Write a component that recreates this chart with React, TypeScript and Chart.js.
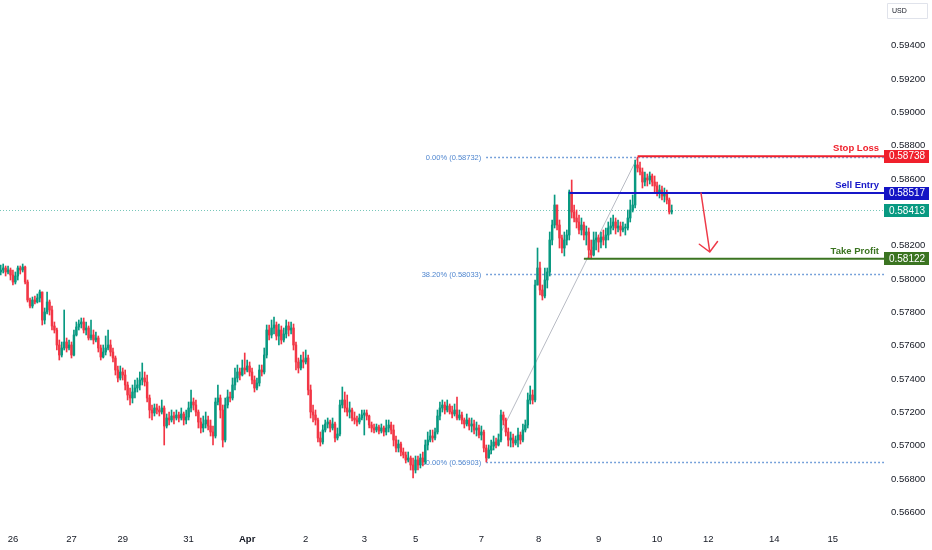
import React, { useEffect, useRef } from "react";
import { Chart, registerables } from "chart.js";

Chart.register(...registerables);

// ---------- data ----------
const firstOpen = 0.58043;

const closes = [
  0.58055, 0.58067, 0.58043, 0.58055, 0.58025, 0.57983, 0.58019, 0.58067, 0.58055, 0.58073,
  0.57983, 0.57875, 0.57839, 0.57875, 0.57863, 0.57887, 0.57923, 0.57755, 0.57803, 0.57863,
  0.57815, 0.57719, 0.57695, 0.57605, 0.57545, 0.57587, 0.57623, 0.57587, 0.57605, 0.57545,
  0.57665, 0.57713, 0.57731, 0.57743, 0.57695, 0.57707, 0.57647, 0.57665, 0.57635, 0.57647,
  0.57587, 0.57533, 0.57563, 0.57587, 0.57605, 0.57563, 0.57527, 0.57455, 0.57407, 0.57443,
  0.57425, 0.57365, 0.57305, 0.57287, 0.57323, 0.57347, 0.57365, 0.57395, 0.57407, 0.57383,
  0.57287, 0.57215, 0.57197, 0.57227, 0.57215, 0.57203, 0.57227, 0.57119, 0.57167, 0.57155,
  0.57179, 0.57167, 0.57185, 0.57167, 0.57191, 0.57155, 0.57173, 0.57227, 0.57263, 0.57245,
  0.57203, 0.57143, 0.57107, 0.57131, 0.57155, 0.57119, 0.57083, 0.57059, 0.57263, 0.57287,
  0.57215, 0.57035, 0.57245, 0.57293, 0.57287, 0.57365, 0.57407, 0.57443, 0.57425, 0.57467,
  0.57455, 0.57479, 0.57443, 0.57395, 0.57347, 0.57377, 0.57455, 0.57443, 0.57545, 0.57695,
  0.57665, 0.57707, 0.57725, 0.57659, 0.57695, 0.57635, 0.57671, 0.57719, 0.57695, 0.57707,
  0.57605, 0.57503, 0.57467, 0.57515, 0.57503, 0.57527, 0.57335, 0.57203, 0.57185, 0.57155,
  0.57047, 0.57023, 0.57095, 0.57131, 0.57143, 0.57107, 0.57131, 0.57047, 0.57071, 0.57245,
  0.57275, 0.57227, 0.57203, 0.57215, 0.57167, 0.57155, 0.57143, 0.57167, 0.57185, 0.57197,
  0.57179, 0.57125, 0.57107, 0.57095, 0.57113, 0.57089, 0.57107, 0.57083, 0.57107, 0.57125,
  0.57095, 0.57035, 0.56987, 0.57011, 0.56963, 0.56945, 0.56915, 0.56927, 0.56885, 0.56855,
  0.56915, 0.56885, 0.56927, 0.56903, 0.57005, 0.57035, 0.57059, 0.57047, 0.57083, 0.57179,
  0.57227, 0.57245, 0.57215, 0.57239, 0.57203, 0.57191, 0.57215, 0.57167, 0.57185, 0.57155,
  0.57131, 0.57155, 0.57119, 0.57131, 0.57095, 0.57107, 0.57065, 0.57083, 0.56987, 0.56927,
  0.56975, 0.56999, 0.57023, 0.57005, 0.57035, 0.57185, 0.57155, 0.57083, 0.57035, 0.57047,
  0.57017, 0.57035, 0.57065, 0.57035, 0.57095, 0.57125, 0.57275, 0.57305, 0.57275, 0.57965,
  0.58067, 0.57935, 0.57899, 0.57995, 0.58043, 0.58235, 0.58325, 0.58445, 0.58325, 0.58247,
  0.58187, 0.58235, 0.58265, 0.58523, 0.58403, 0.58367, 0.58343, 0.58295, 0.58325, 0.58265,
  0.58283, 0.58175, 0.58145, 0.58235, 0.58247, 0.58223, 0.58253, 0.58235, 0.58265, 0.58307,
  0.58319, 0.58343, 0.58307, 0.58319, 0.58295, 0.58307, 0.58307, 0.58367, 0.58415, 0.58445,
  0.58685, 0.58667, 0.58643, 0.58583, 0.58607, 0.58595, 0.58619, 0.58583, 0.58559, 0.58523,
  0.58535, 0.58499, 0.58511, 0.58475, 0.58403, 0.58413,
];

const highs = [
  0.58085, 0.58091, 0.58079, 0.58079, 0.58067, 0.58055, 0.58043, 0.58079, 0.58079, 0.58091,
  0.58079, 0.57995, 0.57887, 0.57893, 0.57899, 0.57911, 0.57935, 0.57923, 0.57827, 0.57923,
  0.57875, 0.57839, 0.57743, 0.57707, 0.57635, 0.57623, 0.57815, 0.57647, 0.57635, 0.57623,
  0.57695, 0.57743, 0.57755, 0.57767, 0.57767, 0.57743, 0.57719, 0.57755, 0.57695, 0.57683,
  0.57659, 0.57605, 0.57605, 0.57659, 0.57695, 0.57635, 0.57587, 0.57539, 0.57479, 0.57479,
  0.57467, 0.57455, 0.57383, 0.57347, 0.57365, 0.57395, 0.57407, 0.57443, 0.57497, 0.57443,
  0.57425, 0.57305, 0.57245, 0.57251, 0.57251, 0.57239, 0.57275, 0.57239, 0.57191, 0.57203,
  0.57215, 0.57203, 0.57215, 0.57203, 0.57227, 0.57203, 0.57215, 0.57263, 0.57335, 0.57287,
  0.57275, 0.57215, 0.57167, 0.57179, 0.57203, 0.57179, 0.57155, 0.57119, 0.57287, 0.57365,
  0.57305, 0.57245, 0.57287, 0.57335, 0.57323, 0.57407, 0.57467, 0.57485, 0.57467, 0.57515,
  0.57557, 0.57515, 0.57503, 0.57467, 0.57419, 0.57407, 0.57485, 0.57485, 0.57587, 0.57725,
  0.57725, 0.57755, 0.57773, 0.57743, 0.57731, 0.57719, 0.57707, 0.57755, 0.57743, 0.57743,
  0.57731, 0.57623, 0.57527, 0.57545, 0.57563, 0.57575, 0.57545, 0.57365, 0.57245, 0.57215,
  0.57167, 0.57083, 0.57125, 0.57155, 0.57167, 0.57155, 0.57167, 0.57143, 0.57107, 0.57275,
  0.57353, 0.57323, 0.57305, 0.57263, 0.57227, 0.57203, 0.57179, 0.57191, 0.57215, 0.57215,
  0.57215, 0.57185, 0.57143, 0.57131, 0.57131, 0.57125, 0.57131, 0.57119, 0.57155, 0.57155,
  0.57143, 0.57125, 0.57059, 0.57035, 0.57023, 0.56987, 0.56963, 0.56963, 0.56939, 0.56927,
  0.56939, 0.56939, 0.56951, 0.56963, 0.57035, 0.57083, 0.57095, 0.57095, 0.57107, 0.57215,
  0.57263, 0.57275, 0.57263, 0.57275, 0.57251, 0.57239, 0.57251, 0.57293, 0.57215, 0.57203,
  0.57167, 0.57191, 0.57167, 0.57167, 0.57155, 0.57143, 0.57125, 0.57119, 0.57095, 0.57005,
  0.57005, 0.57035, 0.57059, 0.57047, 0.57071, 0.57215, 0.57203, 0.57167, 0.57107, 0.57083,
  0.57071, 0.57059, 0.57107, 0.57083, 0.57131, 0.57155, 0.57317, 0.57359, 0.57335, 0.57995,
  0.58187, 0.58103, 0.57965, 0.58067, 0.58067, 0.58283, 0.58355, 0.58505, 0.58445, 0.58355,
  0.58265, 0.58283, 0.58295, 0.58535, 0.58595, 0.58445, 0.58415, 0.58385, 0.58367, 0.58343,
  0.58319, 0.58307, 0.58235, 0.58283, 0.58283, 0.58265, 0.58283, 0.58295, 0.58307, 0.58343,
  0.58367, 0.58385, 0.58367, 0.58355, 0.58343, 0.58343, 0.58331, 0.58415, 0.58475, 0.58505,
  0.58715, 0.58732, 0.58703, 0.58667, 0.58643, 0.58631, 0.58643, 0.58631, 0.58619, 0.58583,
  0.58565, 0.58559, 0.58547, 0.58535, 0.58487, 0.58445,
];

const lows = [
  0.58025, 0.58037, 0.58019, 0.58031, 0.57995, 0.57965, 0.57971, 0.57995, 0.58031, 0.58043,
  0.57971, 0.57863, 0.57827, 0.57827, 0.57851, 0.57857, 0.57863, 0.57725, 0.57731, 0.57791,
  0.57785, 0.57695, 0.57677, 0.57575, 0.57515, 0.57533, 0.57575, 0.57563, 0.57575, 0.57527,
  0.57539, 0.57659, 0.57695, 0.57707, 0.57677, 0.57665, 0.57635, 0.57635, 0.57611, 0.57623,
  0.57563, 0.57515, 0.57527, 0.57545, 0.57575, 0.57539, 0.57503, 0.57425, 0.57383, 0.57395,
  0.57395, 0.57335, 0.57275, 0.57245, 0.57257, 0.57287, 0.57323, 0.57335, 0.57365, 0.57359,
  0.57263, 0.57167, 0.57155, 0.57179, 0.57191, 0.57179, 0.57191, 0.57005, 0.57107, 0.57125,
  0.57143, 0.57131, 0.57155, 0.57143, 0.57155, 0.57125, 0.57131, 0.57155, 0.57203, 0.57215,
  0.57179, 0.57107, 0.57077, 0.57083, 0.57107, 0.57095, 0.57059, 0.57005, 0.57047, 0.57245,
  0.57167, 0.56993, 0.57023, 0.57227, 0.57263, 0.57275, 0.57335, 0.57383, 0.57395, 0.57419,
  0.57431, 0.57443, 0.57419, 0.57371, 0.57323, 0.57335, 0.57359, 0.57419, 0.57431, 0.57527,
  0.57635, 0.57647, 0.57671, 0.57635, 0.57605, 0.57611, 0.57623, 0.57647, 0.57659, 0.57671,
  0.57575, 0.57455, 0.57437, 0.57455, 0.57467, 0.57491, 0.57305, 0.57167, 0.57143, 0.57125,
  0.57023, 0.56999, 0.57011, 0.57083, 0.57107, 0.57083, 0.57095, 0.57023, 0.57035, 0.57059,
  0.57227, 0.57203, 0.57179, 0.57167, 0.57149, 0.57131, 0.57119, 0.57131, 0.57155, 0.57065,
  0.57155, 0.57107, 0.57083, 0.57077, 0.57083, 0.57071, 0.57077, 0.57059, 0.57065, 0.57083,
  0.57071, 0.56999, 0.56963, 0.56963, 0.56939, 0.56927, 0.56897, 0.56903, 0.56855, 0.56807,
  0.56837, 0.56855, 0.56867, 0.56879, 0.56891, 0.56975, 0.57023, 0.57023, 0.57035, 0.57071,
  0.57155, 0.57203, 0.57191, 0.57203, 0.57191, 0.57167, 0.57179, 0.57155, 0.57155, 0.57131,
  0.57107, 0.57119, 0.57095, 0.57083, 0.57071, 0.57059, 0.57047, 0.57035, 0.56963, 0.56903,
  0.56927, 0.56951, 0.56975, 0.56987, 0.56999, 0.57023, 0.57125, 0.57059, 0.56999, 0.56993,
  0.56993, 0.57005, 0.56993, 0.57011, 0.57023, 0.57083, 0.57107, 0.57251, 0.57251, 0.57263,
  0.57965, 0.57905, 0.57875, 0.57887, 0.57947, 0.58019, 0.58205, 0.58307, 0.58295, 0.58187,
  0.58157, 0.58139, 0.58205, 0.58235, 0.58367, 0.58343, 0.58307, 0.58271, 0.58265, 0.58235,
  0.58205, 0.58127, 0.58122, 0.58139, 0.58175, 0.58163, 0.58187, 0.58205, 0.58187, 0.58235,
  0.58271, 0.58295, 0.58271, 0.58283, 0.58259, 0.58283, 0.58265, 0.58295, 0.58343, 0.58403,
  0.58427, 0.58643, 0.58625, 0.58547, 0.58559, 0.58559, 0.58571, 0.58559, 0.58523, 0.58499,
  0.58487, 0.58475, 0.58463, 0.58451, 0.58391, 0.58391,
];

const dayTickIndex = [5, 29, 50, 77, 101, 125, 149, 170, 197, 220.5, 245, 269, 290, 317, 341];
const dayTickLabels = ["26", "27", "29", "31", "Apr", "2", "3", "5", "7", "8", "9", "10", "12", "14", "15"];
const priceTicks = [0.566, 0.568, 0.57, 0.572, 0.574, 0.576, 0.578, 0.58, 0.582, 0.584, 0.586, 0.588, 0.59, 0.592, 0.594];

const fibStartIndex = 199;
const fibEndIndex = 261;
const fibPrices = [0.58732, 0.58033, 0.56903];
const fibLabels = ["0.00% (0.58732)", "38.20% (0.58033)", "100.00% (0.56903)"];

const levelNames = ["Stop Loss", "Sell Entry", "Take Profit"];
const levelPrices = [0.58738, 0.58517, 0.58122];
const levelStartIndex = [261, 233, 239];

const arrowIndex = [287, 290.6];
const arrowPrice = [0.58517, 0.58163];

const currencyLabel = "USD";

// ---------- styles ----------
const UP = "#089981";
const DOWN = "#f23645";
const LEVEL_COLORS = ["#f0202c", "#1616c8", "#3b7421"];
const LEVEL_BOX = ["#f0202c", "#1414c4", "#3b7421"];
const FIB_COLOR = "#4f86cf";
const FONT = "'Liberation Sans', Arial, sans-serif";
const X_MIN = -0.3;
const X_MAX = 362.0;
const Y_MIN = 0.56525;
const Y_MAX = 0.59675;

const opens = closes.map((c, i) => (i === 0 ? firstOpen : closes[i - 1]));
const candleColors = closes.map((c, i) => (c >= opens[i] ? UP : DOWN));

const zeroPadding = (s: any) => {
  s.paddingTop = 0;
  s.paddingBottom = 0;
  s.paddingLeft = 0;
  s.paddingRight = 0;
};

const overlayPlugin = {
  id: "overlay",
  beforeDatasetsDraw(chart: any) {
    const { ctx, chartArea: a, scales } = chart;
    const x = scales.x;
    const y = scales.y;
    ctx.save();
    ctx.beginPath();
    ctx.rect(a.left, a.top, a.right - a.left, a.bottom - a.top);
    ctx.clip();

    // current price dotted line
    const lp = closes[closes.length - 1];
    const yl = Math.round(y.getPixelForValue(lp)) + 0.5;
    ctx.setLineDash([1, 2]);
    ctx.strokeStyle = "rgba(8,153,129,0.55)";
    ctx.lineWidth = 1;
    ctx.beginPath();
    ctx.moveTo(a.left, yl);
    ctx.lineTo(a.right, yl);
    ctx.stroke();

    // fib levels
    const xs = x.getPixelForValue(fibStartIndex);
    ctx.font = `7.5px ${FONT}`;
    ctx.textAlign = "right";
    ctx.textBaseline = "middle";
    fibPrices.forEach((p, k) => {
      const yy = Math.round(y.getPixelForValue(p)) + 0.5;
      ctx.setLineDash([1.5, 2.5]);
      ctx.strokeStyle = FIB_COLOR;
      ctx.lineWidth = 1.3;
      ctx.beginPath();
      ctx.moveTo(xs, yy);
      ctx.lineTo(a.right, yy);
      ctx.stroke();
      ctx.fillStyle = FIB_COLOR;
      ctx.fillText(fibLabels[k], xs - 5, yy);
    });

    // fib trend line
    ctx.setLineDash([]);
    ctx.strokeStyle = "#b8bbc4";
    ctx.lineWidth = 1;
    ctx.beginPath();
    ctx.moveTo(xs, y.getPixelForValue(fibPrices[2]));
    ctx.lineTo(x.getPixelForValue(fibEndIndex), y.getPixelForValue(fibPrices[0]));
    ctx.stroke();
    ctx.restore();
  },
  afterDatasetsDraw(chart: any) {
    const { ctx, chartArea: a, scales } = chart;
    const x = scales.x;
    const y = scales.y;
    ctx.save();
    // trade levels
    levelPrices.forEach((p, k) => {
      const yy = y.getPixelForValue(p);
      ctx.strokeStyle = LEVEL_COLORS[k];
      ctx.lineWidth = 2;
      ctx.beginPath();
      ctx.moveTo(x.getPixelForValue(levelStartIndex[k]), yy);
      ctx.lineTo(a.right, yy);
      ctx.stroke();
      ctx.fillStyle = LEVEL_COLORS[k];
      ctx.font = `bold 9.5px ${FONT}`;
      ctx.textAlign = "right";
      ctx.textBaseline = "alphabetic";
      ctx.fillText(levelNames[k], a.right - 5, yy - 5);
    });

    // arrow
    const x0 = x.getPixelForValue(arrowIndex[0]);
    const y0 = y.getPixelForValue(arrowPrice[0]);
    const x1 = x.getPixelForValue(arrowIndex[1]);
    const y1 = y.getPixelForValue(arrowPrice[1]);
    ctx.strokeStyle = "#ee3a48";
    ctx.lineWidth = 1.5;
    ctx.lineCap = "round";
    ctx.beginPath();
    ctx.moveTo(x0, y0);
    ctx.lineTo(x1, y1);
    const ang = Math.atan2(y0 - y1, x0 - x1);
    const len = 13;
    const spread = Math.PI / 4;
    ctx.moveTo(x1 + len * Math.cos(ang - spread), y1 + len * Math.sin(ang - spread));
    ctx.lineTo(x1, y1);
    ctx.lineTo(x1 + len * Math.cos(ang + spread), y1 + len * Math.sin(ang + spread));
    ctx.stroke();
    ctx.restore();
  },
  afterDraw(chart: any) {
    const { ctx, chartArea: a, scales } = chart;
    const y = scales.y;
    ctx.save();
    const boxes = [
      { p: levelPrices[0], c: LEVEL_BOX[0] },
      { p: levelPrices[1], c: LEVEL_BOX[1] },
      { p: closes[closes.length - 1], c: UP },
      { p: levelPrices[2], c: LEVEL_BOX[2] },
    ];
    const bx = a.right;
    const bw = 45;
    const bh = 13;
    boxes.forEach((b) => {
      const yy = y.getPixelForValue(b.p);
      ctx.fillStyle = b.c;
      ctx.fillRect(bx, Math.round(yy - bh / 2), bw, bh);
      ctx.fillStyle = "#ffffff";
      ctx.font = `10px ${FONT}`;
      ctx.textAlign = "center";
      ctx.textBaseline = "middle";
      ctx.fillText(b.p.toFixed(5), bx + bw / 2 + 0.5, yy + 0.5);
    });

    // currency box
    ctx.strokeStyle = "#e0e3eb";
    ctx.lineWidth = 1;
    ctx.beginPath();
    ctx.rect(887.5, 3.5, 40, 15);
    ctx.stroke();
    ctx.fillStyle = "#131722";
    ctx.font = `7px ${FONT}`;
    ctx.textAlign = "left";
    ctx.textBaseline = "middle";
    ctx.fillText(currencyLabel, 892, 11.5);
    ctx.restore();
  },
};

export default function App() {
  const ref = useRef<HTMLCanvasElement | null>(null);

  useEffect(() => {
    const canvas = ref.current;
    if (!canvas) return;
    const wickData = closes.map((_, i) => ({ x: i, y: [lows[i], highs[i]] }));
    const bodyData = closes.map((c, i) => ({ x: i, y: [opens[i], c] }));

    const chart = new Chart(canvas, {
      type: "bar",
      data: {
        datasets: [
          {
            data: wickData as any,
            backgroundColor: candleColors,
            barThickness: 1,
            grouped: false,
            order: 2,
            borderWidth: 0,
          } as any,
          {
            data: bodyData as any,
            backgroundColor: candleColors,
            barThickness: 1.8,
            minBarLength: 1,
            grouped: false,
            order: 1,
            borderWidth: 0,
          } as any,
        ],
      },
      options: {
        animation: false,
        responsive: false,
        events: [],
        layout: { padding: 0 },
        plugins: {
          legend: { display: false },
          tooltip: { enabled: false },
        },
        scales: {
          x: {
            type: "linear",
            min: X_MIN,
            max: X_MAX,
            offset: false,
            grid: { display: false, drawTicks: false },
            border: { display: false },
            afterFit: (s: any) => {
              s.height = 25;
              zeroPadding(s);
            },
            afterBuildTicks: (s: any) => {
              s.ticks = dayTickIndex.map((v) => ({ value: v }));
            },
            ticks: {
              autoSkip: false,
              maxRotation: 0,
              padding: 9,
              color: "#131722",
              font: (c: any) => ({
                family: FONT,
                size: 9.5,
                weight: dayTickLabels[c.index] === "Apr" ? "bold" : "normal",
              }),
              callback: (_v: any, i: number) => dayTickLabels[i],
            },
          },
          y: {
            type: "linear",
            position: "right",
            min: Y_MIN,
            max: Y_MAX,
            grid: { display: false, drawTicks: false },
            border: { display: false },
            afterFit: (s: any) => {
              s.width = 48;
              zeroPadding(s);
            },
            afterBuildTicks: (s: any) => {
              s.ticks = priceTicks.map((v) => ({ value: v }));
            },
            ticks: {
              padding: 7,
              color: "#131722",
              font: { family: FONT, size: 9.5 },
              callback: (v: any) => Number(v).toFixed(5),
            },
          },
        },
      },
      plugins: [overlayPlugin],
    });
    return () => chart.destroy();
  }, []);

  return (
    <div style={{ position: "absolute", left: 0, top: 0, width: 932, height: 550, background: "#ffffff" }}>
      <canvas ref={ref} width={932} height={550} style={{ display: "block", width: 932, height: 550 }} />
    </div>
  );
}
